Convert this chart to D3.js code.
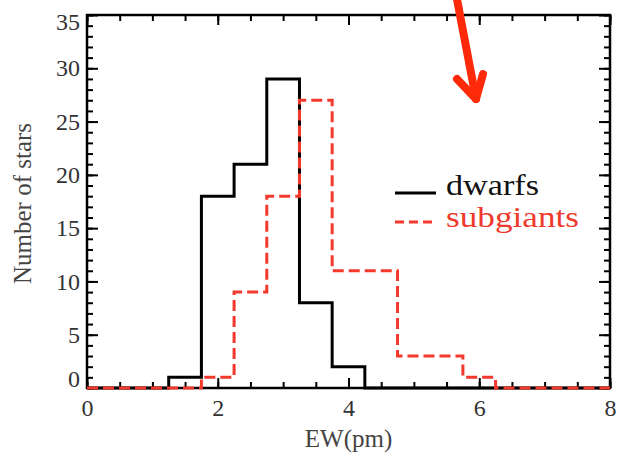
<!DOCTYPE html>
<html>
<head>
<meta charset="utf-8">
<script src="https://cdn.jsdelivr.net/npm/d3@7/dist/d3.min.js"></script>
<style>
  html, body { margin: 0; padding: 0; background: #fff; }
  svg { display: block; }
  text { font-family: "Liberation Serif", "Times New Roman", serif; }
</style>
</head>
<body>
<svg id="chart" width="620" height="456"></svg>
<script>
// ---- data ----
const binCenters = [0, 0.5, 1, 1.5, 2, 2.5, 3, 3.5, 4, 4.5, 5, 5.5, 6, 6.5, 7, 7.5, 8];
const dwarfs     = [0, 0, 0, 1, 18, 21, 29, 8, 2, 0, 0, 0, 0, 0, 0, 0, 0];
const subgiants  = [0, 0, 0, 0, 1, 9, 18, 27, 11, 11, 3, 3, 1, 0, 0, 0, 0];
const xTicks = [0, 2, 4, 6, 8];
const yTicks = [0, 5, 10, 15, 20, 25, 30, 35];
const xMinor = d3.range(0, 8.01, 0.5);
const yMinor = d3.range(0, 35.01, 1);
const seriesNames = ["dwarfs", "subgiants"];

// ---- layout ----
const L = 87, R = 610, T = 15, B = 388;
const svg = d3.select("#chart");
const x = d3.scaleLinear().domain([0, 8]).range([L, R]);
const y = d3.scaleLinear().domain([0, 35]).range([B, T]);

function styleAxis(g) {
  g.select(".domain").remove();
  g.selectAll(".tick line").attr("stroke", "#000").attr("stroke-width", 2);
  g.selectAll(".tick text")
    .attr("fill", "#333")
    .style("font-family", '"Liberation Serif", "Times New Roman", serif')
    .style("font-size", "24px");
}

// minor ticks (inward) on all four sides
svg.append("g").attr("transform", `translate(0,${B})`)
  .call(d3.axisBottom(x).tickValues(xMinor).tickSize(-6).tickFormat(""))
  .call(styleAxis);
svg.append("g").attr("transform", `translate(0,${T})`)
  .call(d3.axisTop(x).tickValues(xMinor).tickSize(-6).tickFormat(""))
  .call(styleAxis);
svg.append("g").attr("transform", `translate(${L},0)`)
  .call(d3.axisLeft(y).tickValues(yMinor).tickSize(-6).tickFormat(""))
  .call(styleAxis);
svg.append("g").attr("transform", `translate(${R},0)`)
  .call(d3.axisRight(y).tickValues(yMinor).tickSize(-6).tickFormat(""))
  .call(styleAxis);

// major ticks
const xAxisG = svg.append("g").attr("transform", `translate(0,${B})`)
  .call(d3.axisBottom(x).tickValues(xTicks).tickSize(-10).tickFormat(d3.format("d")))
  .call(styleAxis);
xAxisG.selectAll(".tick text").attr("y", 11).attr("dy", "0.71em");
svg.append("g").attr("transform", `translate(0,${T})`)
  .call(d3.axisTop(x).tickValues(xTicks).tickSize(-10).tickFormat(""))
  .call(styleAxis);
const yAxisG = svg.append("g").attr("transform", `translate(${L},0)`)
  .call(d3.axisLeft(y).tickValues(yTicks).tickSize(-11).tickFormat(d3.format("d")))
  .call(styleAxis);
// IDL keeps end labels inside the axis span
yAxisG.selectAll(".tick text").attr("x", -7)
  .attr("dy", d => d === 0 ? "-0.05em" : (d === 35 ? "0.62em" : "0.32em"));
svg.append("g").attr("transform", `translate(${R},0)`)
  .call(d3.axisRight(y).tickValues(yTicks).tickSize(-11).tickFormat(""))
  .call(styleAxis);

// frame
svg.append("rect")
  .attr("x", L).attr("y", T).attr("width", R - L).attr("height", B - T)
  .attr("fill", "none").attr("stroke", "#000").attr("stroke-width", 2.5);

// histograms (psym=10 style steps)
const line = d3.line().x(d => x(d[0])).y(d => y(d[1])).curve(d3.curveStep);
svg.append("path")
  .datum(binCenters.map((c, i) => [c, dwarfs[i]]))
  .attr("d", line).attr("fill", "none")
  .attr("stroke", "#000").attr("stroke-width", 3);
svg.append("path")
  .datum(binCenters.map((c, i) => [c, subgiants[i]]))
  .attr("d", line).attr("fill", "none")
  .attr("stroke", "#f2392b").attr("stroke-width", 3).attr("stroke-dasharray", "11,5");

// axis titles
svg.append("text")
  .attr("x", (L + R) / 2).attr("y", 447)
  .attr("text-anchor", "middle").attr("fill", "#444")
  .style("font-size", "25px").text("EW(pm)");
svg.append("text")
  .attr("transform", `translate(31,${(T + B) / 2 + 2}) rotate(-90)`)
  .attr("text-anchor", "middle").attr("fill", "#444")
  .style("font-size", "25px").text("Number of stars");

// legend
const legend = svg.append("g");
const legendY = [193, 222];
const legendBase = [195, 227];
const legendW = [93, 133];
const legendColors = ["#000", "#f2392b"];
const legendDash = [null, "9,5"];
seriesNames.forEach((name, i) => {
  legend.append("line")
    .attr("x1", 395).attr("x2", 436).attr("y1", legendY[i]).attr("y2", legendY[i])
    .attr("stroke", legendColors[i]).attr("stroke-width", 3)
    .attr("stroke-dasharray", legendDash[i]);
  legend.append("text")
    .attr("x", 446).attr("y", legendBase[i])
    .attr("textLength", legendW[i]).attr("lengthAdjust", "spacingAndGlyphs")
    .attr("fill", i ? "#ee3a2c" : "#111")
    .style("font-size", "29px").text(name);
});

// red annotation arrow
const arrow = svg.append("g")
  .attr("stroke", "#ff2a0a").attr("stroke-width", 8)
  .attr("stroke-linecap", "round").attr("stroke-linejoin", "round").attr("fill", "none");
arrow.append("line").attr("x1", 456).attr("y1", -6).attr("x2", 476).attr("y2", 99);
arrow.append("polyline").attr("points", "457,79 476,99 483,74");
</script>
</body>
</html>
